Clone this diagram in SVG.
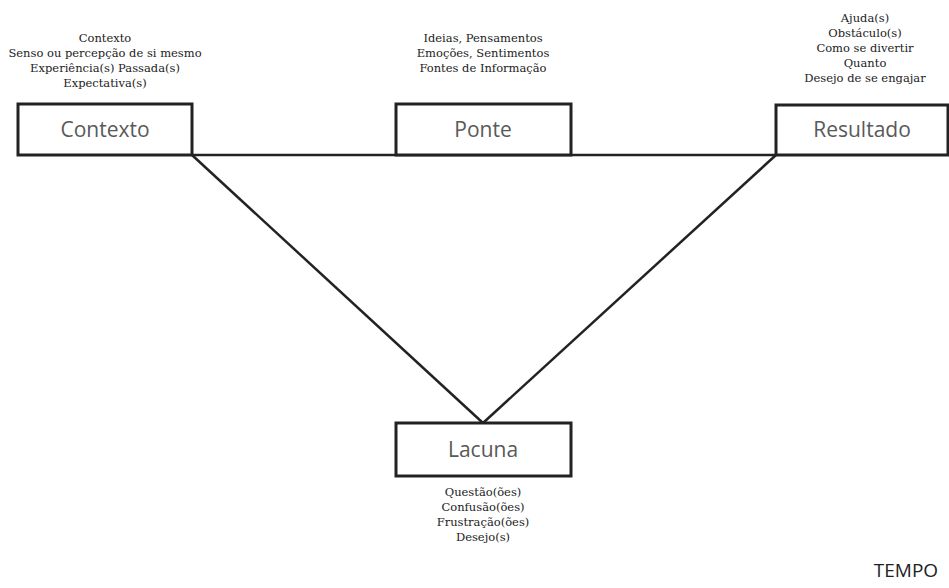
<svg xmlns="http://www.w3.org/2000/svg" width="949" height="588" viewBox="0 0 949 588">
<style>
.box{fill:#fff;stroke:#222;stroke-width:3}
.lbl{font-family:"Open Sans","Liberation Sans",sans-serif;font-size:21px;fill:#595959;text-anchor:middle}
.note{font-family:"DejaVu Serif","Liberation Serif",serif;font-size:11.5px;fill:#222;text-anchor:middle}
.con{stroke:#222;stroke-width:2.5;fill:none}
</style>
<rect width="949" height="588" fill="#fff"/>
<g id="connectors">
<line class="con" x1="192" y1="155" x2="776" y2="155"/>
<line class="con" x1="192" y1="155" x2="483" y2="423"/>
<line class="con" x1="776" y1="155" x2="483" y2="423"/>
</g>
<g id="contexto">
<rect class="box" x="18" y="104" width="174" height="51"/>
<text class="lbl" x="105" y="137">Contexto</text>
<text class="note" x="105" y="42">Contexto</text>
<text class="note" x="105" y="57">Senso ou percepção de si mesmo</text>
<text class="note" x="105" y="72">Experiência(s) Passada(s)</text>
<text class="note" x="105" y="87">Expectativa(s)</text>
</g>
<g id="ponte">
<rect class="box" x="396" y="104" width="175" height="51"/>
<text class="lbl" x="483" y="137">Ponte</text>
<text class="note" x="483" y="42">Ideias, Pensamentos</text>
<text class="note" x="483" y="57">Emoções, Sentimentos</text>
<text class="note" x="483" y="72">Fontes de Informação</text>
</g>
<g id="resultado">
<rect class="box" x="776" y="105" width="172" height="50"/>
<text class="lbl" x="862" y="137">Resultado</text>
<text class="note" x="865" y="22">Ajuda(s)</text>
<text class="note" x="865" y="37">Obstáculo(s)</text>
<text class="note" x="865" y="52">Como se divertir</text>
<text class="note" x="865" y="67">Quanto</text>
<text class="note" x="865" y="82">Desejo de se engajar</text>
</g>
<g id="lacuna">
<rect class="box" x="396" y="423" width="175" height="53"/>
<text class="lbl" x="483" y="457">Lacuna</text>
<text class="note" x="483" y="496">Questão(ões)</text>
<text class="note" x="483" y="511">Confusão(ões)</text>
<text class="note" x="483" y="526">Frustração(ões)</text>
<text class="note" x="483" y="541">Desejo(s)</text>
</g>
<text id="tempo" x="906" y="577" font-family="'Open Sans','Liberation Sans',sans-serif" font-size="19" fill="#222" text-anchor="middle">TEMPO</text>
</svg>
